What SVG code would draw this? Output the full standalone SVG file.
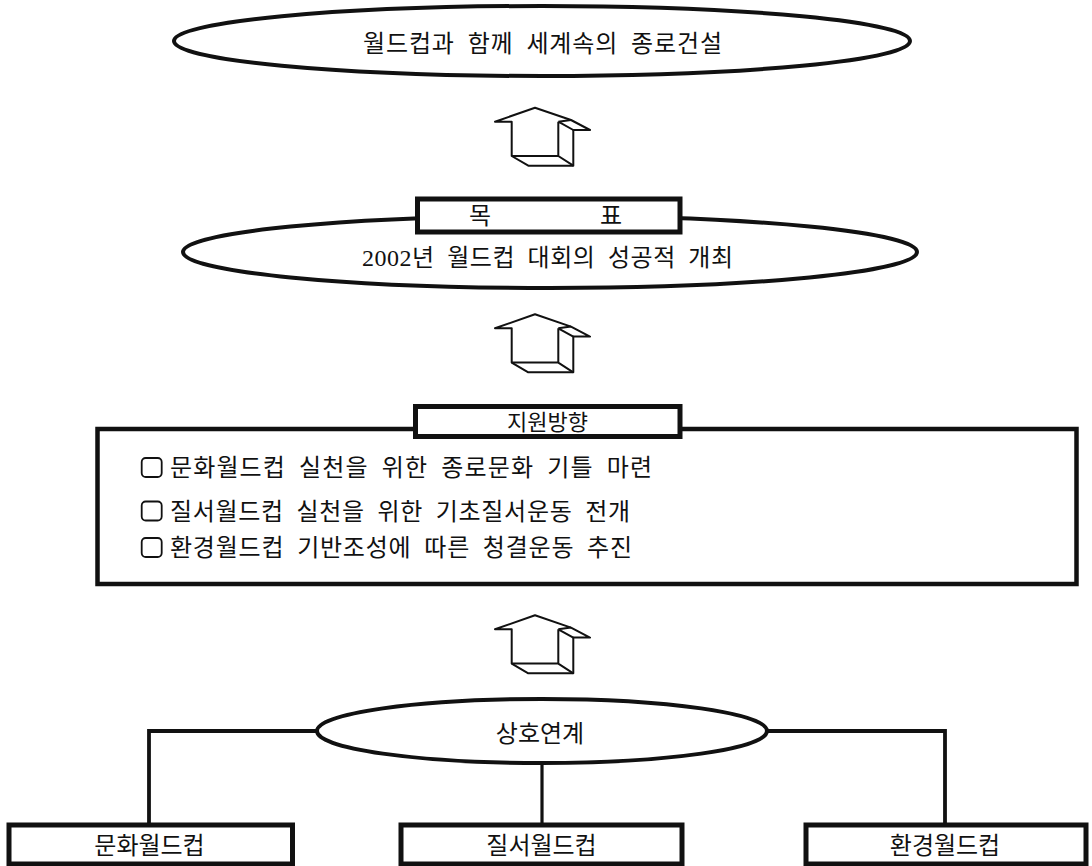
<svg xmlns="http://www.w3.org/2000/svg" xmlns:xlink="http://www.w3.org/1999/xlink" width="1092" height="866" viewBox="0 0 1092 866">
  <style>
    .t { font-family: "Liberation Serif", "Noto Sans CJK KR", serif; font-size: 24px; fill: #111; word-spacing: 6px; }
    .tb { font-family: "Liberation Serif", "Noto Sans CJK KR", serif; font-size: 24px; fill: #111; }
    .ell { fill: #fff; stroke: #111; stroke-width: 4; }
    .box { fill: #fff; stroke: #111; stroke-width: 5; }
    .conn { fill: none; stroke: #111; stroke-width: 3.8; }
    .chk { fill: none; stroke: #111; stroke-width: 1.8; }
    .arw { fill: #fff; stroke: #111; stroke-width: 2; stroke-linejoin: round; }
    .arwi { fill: none; stroke: #111; stroke-width: 2; stroke-linejoin: round; }
  </style>
  <defs>
    <g id="uparrow">
      <path class="arw" d="M25,26.7 L65,12.7 L101,25 L120,35 L103.3,35 L103.3,70.7 L58.3,70.7 L41.7,61 L41.7,26.7 Z"/>
      <path class="arwi" d="M88.3,26.7 L88.3,61 L41.7,61 M88.3,61 L103.3,70.7 M88.3,26.7 L103.3,35 M88.3,26.7 L101,25"/>
    </g>
  </defs>
  <rect width="1092" height="866" fill="#fff"/>

  <g id="connectors">
    <use xlink:href="#uparrow" x="470" y="95"/>
    <use xlink:href="#uparrow" x="470" y="301.6"/>
    <use xlink:href="#uparrow" x="470" y="602.6"/>
    <path class="conn" d="M317,731 H149 V825"/>
    <path class="conn" d="M767,731 H945 V825"/>
    <path class="conn" d="M542,763 V825" style="stroke-width:3.2"/>
  </g>

  <g id="vision">
    <ellipse class="ell" cx="542" cy="41" rx="368" ry="35"/>
    <text class="t" x="363" y="51.5" textLength="359" lengthAdjust="spacing">월드컵과 함께 세계속의 종로건설</text>
  </g>

  <g id="goal">
    <ellipse class="ell" cx="550" cy="252" rx="367" ry="36"/>
    <rect class="box" x="417.5" y="199" width="262.5" height="33"/>
    <text class="t" x="469 493 600" y="223.5">목 표</text>
    <text class="t" x="362" y="266" textLength="371" lengthAdjust="spacing">2002년 월드컵 대회의 성공적 개최</text>
  </g>

  <g id="support">
    <rect x="97.5" y="429" width="979" height="155" fill="#fff" stroke="#111" stroke-width="4.5"/>
    <rect class="box" x="415.5" y="406.5" width="264.5" height="30"/>
    <text class="t" x="547.5" y="429.5" text-anchor="middle" style="font-size:22px">지원방향</text>
    <rect class="chk" x="141.7" y="458" width="20" height="19" rx="4"/>
    <text class="t" x="170" y="476" textLength="482" lengthAdjust="spacing">문화월드컵 실천을 위한 종로문화 기틀 마련</text>
    <rect class="chk" x="141.7" y="501.5" width="20" height="19" rx="4"/>
    <text class="t" x="170" y="519.5" textLength="460" lengthAdjust="spacing">질서월드컵 실천을 위한 기초질서운동 전개</text>
    <rect class="chk" x="141.7" y="538" width="20" height="19" rx="4"/>
    <text class="t" x="170" y="556" textLength="462" lengthAdjust="spacing">환경월드컵 기반조성에 따른 청결운동 추진</text>
  </g>

  <g id="link">
    <ellipse class="ell" cx="542" cy="731" rx="225" ry="32"/>
    <text class="tb" x="540" y="742" text-anchor="middle">상호연계</text>
  </g>

  <g id="culture">
    <rect class="box" x="9" y="825" width="283.5" height="39"/>
    <text class="tb" x="149.5" y="854" text-anchor="middle">문화월드컵</text>
  </g>

  <g id="order">
    <rect class="box" x="401" y="825" width="281" height="39"/>
    <text class="tb" x="541.5" y="854" text-anchor="middle">질서월드컵</text>
  </g>

  <g id="environment">
    <rect class="box" x="806" y="825" width="280" height="39"/>
    <text class="tb" x="945" y="854" text-anchor="middle">환경월드컵</text>
  </g>
</svg>
